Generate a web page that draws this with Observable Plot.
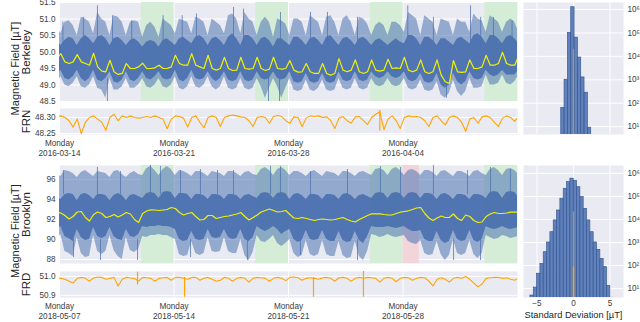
<!DOCTYPE html>
<html><head><meta charset="utf-8">
<script src="https://cdn.jsdelivr.net/npm/d3@7"></script>
<script src="https://cdn.jsdelivr.net/npm/@observablehq/plot@0.6"></script>
<style>
body{margin:0;background:#fff;}
#chart{position:relative;width:640px;height:322px;overflow:hidden;font-family:"Liberation Sans",Arial,sans-serif;}
#chart svg{position:absolute;left:0;top:0;}
</style></head><body><div id="chart"></div>
<script>
// ---------- DATA (samples every 6 h, starting Sunday 20:00 before the first Monday) ----------
// top: Berkeley, 2016-03-14 .. 2016-04-11 ; each row = one day [02h, 08h, 14h, 20h]
const berkSpikeHi = [50.8,
 50.55,50.9,50.95,50.8, 50.5,51.05,51.0,50.9, 50.55,51.2,51.0,50.9, 50.5,51.1,51.05,50.9, 50.5,50.9,50.95,50.9, 50.45,50.8,50.9,50.75, 50.45,51.0,50.9,50.8,
 50.55,51.0,50.95,50.9, 50.55,51.05,51.0,50.9, 50.5,51.0,50.9,50.8, 50.55,51.1,51.15,51.0, 50.55,51.2,51.0,50.9, 50.5,50.9,51.05,50.9, 50.45,51.0,50.95,50.85,
 50.5,51.0,51.0,50.9, 50.5,51.1,51.0,50.9, 50.5,51.05,51.1,50.9, 50.5,51.0,51.1,50.9, 50.5,51.05,51.0,50.85, 50.5,50.8,50.9,50.8, 50.5,50.9,50.9,50.8,
 50.6,51.2,51.1,51.0, 50.5,51.1,51.0,50.9, 50.5,51.0,50.95,50.9, 50.5,51.0,50.9,50.9, 50.6,51.15,51.0,50.95, 50.6,51.1,51.0,50.9, 50.6,50.9,51.0,50.9,
 50.6];
const berkDenseHi = [50.35,
 50.2,50.35,50.45,50.4, 50.2,50.4,50.5,50.4, 50.25,50.45,50.5,50.4, 50.2,50.4,50.45,50.35, 50.2,50.35,50.4,50.3, 50.15,50.3,50.35,50.3, 50.15,50.35,50.4,50.3,
 50.2,50.4,50.45,50.35, 50.25,50.45,50.5,50.4, 50.2,50.4,50.45,50.35, 50.2,50.45,50.55,50.4, 50.2,50.5,50.5,50.4, 50.2,50.4,50.45,50.35, 50.15,50.4,50.4,50.3,
 50.2,50.45,50.45,50.35, 50.2,50.4,50.45,50.35, 50.2,50.45,50.5,50.35, 50.2,50.4,50.45,50.35, 50.2,50.4,50.45,50.35, 50.2,50.35,50.4,50.3, 50.2,50.3,50.4,50.3,
 50.25,50.5,50.5,50.4, 50.2,50.45,50.45,50.35, 50.2,50.4,50.4,50.3, 50.2,50.4,50.45,50.35, 50.25,50.5,50.55,50.45, 50.25,50.5,50.5,50.4, 50.25,50.45,50.5,50.4,
 50.25];
const berkDenseLo = [49.25,
 49.45,49.2,49.15,49.25, 49.45,49.2,49.1,49.2, 49.45,49.15,49.1,49.2, 49.4,49.1,49.05,49.15, 49.4,49.15,49.1,49.2, 49.4,49.2,49.15,49.25, 49.4,49.2,49.15,49.2,
 49.45,49.15,49.1,49.2, 49.45,49.2,49.15,49.2, 49.4,49.2,49.1,49.2, 49.4,49.15,49.1,49.15, 49.4,49.15,49.1,49.15, 49.4,49.2,49.15,49.2, 49.4,49.2,49.15,49.2,
 49.4,49.1,49.05,49.1, 49.35,49.1,49.05,49.1, 49.35,49.1,49.05,49.1, 49.4,49.15,49.1,49.15, 49.4,49.15,49.1,49.15, 49.4,49.25,49.2,49.25, 49.4,49.25,49.2,49.25,
 49.4,49.15,49.1,49.15, 49.35,49.1,49.05,49.1, 49.35,49.0,48.9,49.0, 49.35,49.1,49.0,49.1, 49.4,49.2,49.15,49.2, 49.45,49.3,49.25,49.3, 49.45,49.3,49.3,49.3,
 49.45];
const berkSpikeLo = [49.05,
 49.25,49.0,48.95,49.05, 49.25,48.95,48.9,49.0, 49.25,48.9,48.85,48.6, 49.2,48.85,48.85,48.95, 49.2,48.9,48.9,49.0, 49.2,48.95,48.9,49.0, 49.2,48.95,48.9,49.0,
 49.25,48.9,48.85,48.95, 49.25,48.95,48.9,49.0, 49.25,48.95,48.85,48.95, 49.25,48.9,48.85,48.9, 49.2,48.9,48.85,48.9, 49.2,48.95,48.6,48.9, 49.2,48.95,48.6,48.9,
 49.2,48.85,48.8,48.85, 49.15,48.85,48.8,48.9, 49.15,48.85,48.8,48.85, 49.2,48.9,48.85,48.9, 49.2,48.9,48.85,48.9, 49.2,49.0,48.95,49.0, 49.2,49.0,48.95,49.0,
 49.2,48.9,48.85,48.9, 49.15,48.85,48.8,48.85, 49.1,48.7,48.6,48.75, 49.15,48.8,48.65,48.8, 49.2,48.9,48.9,48.95, 49.3,49.0,49.0,49.05, 49.3,49.05,49.0,49.1,
 49.3];
const berkMean = [49.8,
 49.95,49.7,49.65,49.7, 49.92,49.7,49.65,49.6, 49.96,49.55,49.42,49.4, 49.75,49.4,49.32,49.35, 49.65,49.5,49.5,49.55, 49.66,49.5,49.5,49.52, 49.6,49.5,49.5,49.55,
 49.9,49.65,49.6,49.6, 49.95,49.6,49.55,49.5, 49.9,49.5,49.45,49.5, 49.84,49.5,49.44,49.45, 49.84,49.5,49.48,49.5, 49.84,49.5,49.44,49.48, 49.84,49.5,49.48,49.5,
 49.74,49.45,49.39,49.4, 49.65,49.4,49.35,49.35, 49.65,49.35,49.3,49.35, 49.8,49.45,49.4,49.45, 49.76,49.4,49.35,49.4, 49.76,49.45,49.42,49.45, 49.78,49.5,49.52,49.5,
 49.84,49.45,49.4,49.45, 49.76,49.4,49.35,49.4, 49.76,49.3,49.1,49.05, 49.74,49.4,49.38,49.4, 49.76,49.5,49.5,49.55, 49.9,49.6,49.6,49.65, 49.99,49.65,49.6,49.6,
 49.9];
// isolated spikes: [time, low, high]
const berkSpikes = [
 ["2016-03-14T05:00Z",50.2,50.9],["2016-03-15T11:00Z",50.2,51.05],["2016-03-16T07:40Z",50.2,51.4],["2016-03-16T22:20Z",48.5,49.2],
 ["2016-03-17T05:45Z",50.2,51.1],["2016-03-18T10:00Z",50.2,50.95],["2016-03-20T08:00Z",50.2,51.1],["2016-03-21T12:00Z",50.2,51.1],
 ["2016-03-22T09:00Z",50.2,51.15],["2016-03-24T15:20Z",50.2,51.35],["2016-03-25T06:00Z",50.2,51.3],["2016-03-26T18:40Z",48.5,49.2],
 ["2016-03-27T10:50Z",48.5,49.2],["2016-03-27T12:15Z",50.2,51.2],["2016-03-29T08:20Z",50.2,51.2],["2016-03-30T09:10Z",50.2,51.2],
 ["2016-04-01T05:15Z",50.2,51.05],["2016-04-04T07:00Z",50.2,51.4],["2016-04-05T20:40Z",50.2,51.05],["2016-04-06T15:50Z",48.6,49.2],
 ["2016-04-08T03:05Z",50.2,51.4],["2016-04-08T18:00Z",50.2,51.05],["2016-04-09T12:45Z",50.2,51.05],["2016-04-10T16:00Z",50.2,50.95]];
const frn = [48.302,
 48.305,48.300,48.290,48.270, 48.295,48.250,48.285,48.300, 48.305,48.295,48.285,48.260, 48.300,48.310,48.290,48.305, 48.300,48.305,48.300,48.298, 48.300,48.303,48.300,48.305, 48.300,48.295,48.265,48.295,
 48.305,48.303,48.298,48.270, 48.300,48.305,48.285,48.268, 48.300,48.305,48.300,48.272, 48.300,48.305,48.308,48.305, 48.302,48.300,48.290,48.272, 48.300,48.303,48.300,48.282, 48.303,48.306,48.303,48.290,
 48.282,48.302,48.300,48.272, 48.298,48.305,48.303,48.305, 48.300,48.302,48.290,48.266, 48.298,48.303,48.290,48.282, 48.302,48.303,48.290,48.278, 48.300,48.310,48.318,48.262, 48.295,48.305,48.290,48.266,
 48.300,48.305,48.302,48.303, 48.300,48.290,48.272,48.300, 48.305,48.290,48.277,48.300, 48.305,48.300,48.285,48.257, 48.295,48.300,48.282,48.302, 48.305,48.300,48.285,48.272, 48.298,48.305,48.300,48.288,
 48.305];
const frnSpikes = [["2016-04-02T14:00Z", 48.258, 48.322]];

// bottom: Brooklyn, 2018-05-07 .. 2018-06-04
const brkSpikeHi = [96.5,
 96.3,96.9,96.8,96.6, 96.2,96.7,96.9,96.6, 96.3,96.8,96.7,96.6, 96.2,96.8,96.9,96.5, 96.2,96.6,96.8,96.5, 96.4,97.1,97.3,96.9, 96.4,97.0,97.3,97.0,
 96.4,96.9,96.8,96.6, 96.3,96.8,96.8,96.6, 96.3,96.8,96.7,96.6, 96.3,96.8,96.8,96.6, 96.3,96.7,96.8,96.5, 96.4,97.0,97.2,96.9, 96.4,97.0,97.2,96.9,
 96.4,96.8,96.8,96.6, 96.3,96.7,96.9,96.6, 96.3,96.8,96.7,96.6, 96.3,96.8,96.8,96.6, 96.3,96.7,96.8,96.6, 96.4,97.0,97.1,96.9, 96.4,97.0,97.2,96.9,
 96.4,96.9,97.0,96.8, 96.4,96.9,96.9,96.7, 96.3,96.8,96.9,96.6, 96.3,96.8,96.8,96.6, 96.3,96.8,96.9,96.6, 96.4,97.0,97.2,96.9, 96.4,97.0,97.1,96.9,
 96.5];
const brkDenseHi = [94.2,
 94.0,94.5,94.6,94.5, 93.9,94.5,94.6,94.4, 94.0,94.5,94.5,94.4, 93.9,94.4,94.6,94.4, 93.9,94.4,94.5,94.3, 94.1,94.6,94.7,94.6, 94.1,94.7,94.8,94.7,
 94.1,94.6,94.6,94.5, 94.0,94.5,94.5,94.4, 94.0,94.5,94.5,94.4, 94.0,94.5,94.5,94.4, 94.0,94.4,94.5,94.3, 94.1,94.6,94.7,94.6, 94.1,94.6,94.7,94.6,
 94.0,94.5,94.6,94.4, 94.0,94.5,94.5,94.4, 94.0,94.5,94.5,94.4, 94.0,94.5,94.6,94.4, 94.0,94.4,94.5,94.3, 94.1,94.6,94.7,94.6, 94.1,94.6,94.7,94.6,
 94.1,94.6,94.7,94.6, 94.1,94.6,94.6,94.5, 94.0,94.5,94.6,94.4, 94.0,94.5,94.5,94.4, 94.0,94.5,94.5,94.4, 94.1,94.7,94.8,94.7, 94.1,94.7,94.8,94.7,
 94.2];
const brkDenseLo = [91.0,
 91.3,90.3,90.1,89.8, 91.0,90.2,89.9,90.0, 91.2,90.3,90.1,90.3, 91.2,90.3,90.0,89.9, 91.0,90.3,90.2,90.5, 91.3,91.2,91.3,91.3, 91.4,91.3,91.3,91.2,
 91.0,90.0,89.8,89.9, 90.8,90.0,89.9,90.0, 91.0,90.2,90.1,90.2, 91.0,90.2,90.0,90.1, 91.0,90.0,89.8,90.2, 91.3,91.0,90.8,91.0, 91.3,91.0,90.5,90.8,
 91.0,90.0,89.7,89.9, 90.9,90.0,89.9,90.0, 90.9,90.0,89.8,89.8, 90.8,89.9,89.7,89.8, 90.8,89.9,89.6,90.3, 91.3,91.2,91.2,91.2, 91.3,91.2,91.1,91.2,
 91.3,91.0,90.8,90.8, 90.9,90.0,89.8,89.8, 90.8,89.9,89.6,89.8, 90.9,90.0,89.8,89.9, 90.9,89.9,89.7,90.0, 91.3,91.1,91.0,91.1, 91.3,91.1,91.0,91.1,
 91.2];
const brkSpikeLo = [90.0,
 90.5,88.8,88.6,88.3, 90.2,88.6,88.2,88.3, 90.4,88.8,88.5,88.8, 90.4,88.9,88.3,88.0, 90.2,88.9,88.7,89.0, 90.3,90.2,90.4,90.4, 90.5,90.4,90.4,90.2,
 90.0,88.5,88.3,88.4, 89.8,88.6,88.4,88.6, 90.2,88.8,88.7,88.8, 90.2,88.8,88.6,88.6, 90.0,88.4,87.9,88.7, 90.4,89.8,89.7,90.0, 90.4,89.6,89.3,89.6,
 90.0,88.6,88.2,88.4, 89.9,88.5,88.3,88.5, 89.9,88.5,88.3,88.3, 89.8,88.4,88.1,88.2, 89.8,88.3,87.9,88.8, 90.5,90.4,90.2,90.3, 90.5,90.3,90.2,90.3,
 90.4,89.8,89.6,89.5, 89.9,88.6,88.4,88.5, 89.8,88.5,87.9,88.4, 90.0,88.6,88.4,88.6, 89.9,88.5,88.1,88.6, 90.4,90.2,90.0,90.1, 90.4,90.3,90.1,90.2,
 90.3];
const brkMean = [92.75,
 92.65,92.4,92.05,92.3, 92.75,92.8,92.2,91.85, 92.5,92.75,92.6,92.2, 92.3,92.5,92.25,92.45, 92.7,92.55,92.0,91.7, 92.6,92.85,92.97,92.95, 92.9,92.95,93.0,93.2,
 93.1,92.7,92.45,92.6, 92.7,92.3,91.95,92.0, 92.4,92.4,92.1,92.2, 92.3,92.35,92.45,92.55, 92.7,92.3,91.95,92.2, 92.45,92.75,92.9,93.05, 92.9,92.75,92.8,92.9,
 92.5,92.15,92.1,92.2, 92.1,92.0,91.9,92.0, 92.05,92.0,91.95,92.0, 92.1,92.2,92.0,91.85, 91.75,92.0,92.2,92.4, 92.57,92.57,92.57,92.5, 92.45,92.45,92.6,92.73,
 92.8,92.87,93.0,93.15, 93.2,92.6,92.15,91.9, 92.15,92.35,92.2,92.2, 92.55,92.1,91.9,92.45, 92.3,91.9,91.7,91.75, 92.3,92.55,92.7,92.6, 92.6,92.65,92.73,92.73,
 92.75];
// isolated spikes: [time, low, high]
const brkSpikes = [
 ["2018-05-07T05:50Z",94.5,96.9],["2018-05-07T20:35Z",88.2,90.0],["2018-05-09T07:40Z",94.5,97.2],["2018-05-09T12:10Z",87.9,90.0],
 ["2018-05-10T17:30Z",94.5,96.8],["2018-05-11T18:30Z",87.9,90.0],["2018-05-12T13:30Z",94.5,97.4],["2018-05-13T04:10Z",94.5,97.3],
 ["2018-05-14T09:35Z",94.5,96.9],["2018-05-15T00:15Z",88.2,90.0],["2018-05-15T14:50Z",94.5,97.0],["2018-05-16T15:50Z",94.5,96.9],
 ["2018-05-17T15:20Z",94.5,96.9],["2018-05-18T11:45Z",87.9,90.0],["2018-05-19T21:40Z",94.5,97.3],["2018-05-20T12:15Z",94.5,97.3],
 ["2018-05-21T17:35Z",88.4,90.0],["2018-05-22T08:20Z",94.5,96.8],["2018-05-24T14:35Z",94.5,97.0],["2018-05-25T05:15Z",87.9,90.0],
 ["2018-05-26T14:55Z",94.5,97.3],["2018-05-27T20:25Z",94.5,97.2],["2018-05-29T20:40Z",94.5,97.4],["2018-05-31T02:10Z",87.9,90.0],
 ["2018-05-31T22:35Z",94.5,96.9],["2018-06-01T17:45Z",87.9,90.0],["2018-06-02T08:25Z",94.5,97.2],["2018-06-03T13:40Z",94.5,97.0]];
const frd = [50.993,
 50.990,50.985,50.975,50.965, 50.990,50.995,50.990,50.975, 50.992,50.997,50.995,50.985, 50.990,50.995,50.950,50.985, 50.995,50.992,50.990,50.975, 50.995,50.993,50.990,50.975, 50.990,50.993,50.995,50.980,
 50.995,50.995,50.990,50.985, 50.995,50.995,50.980,50.990, 50.995,50.985,50.975,50.980, 50.995,50.990,50.975,50.990, 50.995,50.990,50.970,50.990, 50.995,50.993,50.990,50.975, 50.990,50.995,50.990,50.978,
 50.995,50.997,50.993,50.980, 50.990,50.993,50.990,50.985, 50.993,50.995,50.990,50.975, 50.993,50.995,50.990,50.975, 50.990,50.995,50.990,50.995, 50.993,50.990,50.970,50.990, 50.995,50.990,50.972,50.990,
 50.995,50.993,50.980,50.990, 50.995,50.993,50.975,50.950, 50.985,50.993,50.985,50.970, 50.990,50.995,50.990,51.000, 50.985,50.965,50.945,50.960, 50.990,50.993,50.995,50.995, 50.990,50.993,50.985,50.980,
 50.995];
const frdSpikes = [["2018-05-11T18:30Z", 50.955, 51.023], ["2018-05-14T15:30Z", 50.89, 50.995],
                   ["2018-05-22T12:40Z", 50.89, 50.995], ["2018-05-25T14:00Z", 50.89, 51.03]];

const topMondays = ["2016-03-14","2016-03-21","2016-03-28","2016-04-04"];
const topWeekends = [["2016-03-19","2016-03-21"],["2016-03-26","2016-03-28"],["2016-04-02","2016-04-04"],["2016-04-09","2016-04-11"]];
const botMondays = ["2018-05-07","2018-05-14","2018-05-21","2018-05-28"];
const botWeekends = [["2018-05-12","2018-05-14"],["2018-05-19","2018-05-21"],["2018-05-26","2018-05-28"],["2018-06-02","2018-06-04"]];
const botHolidays = [["2018-05-28","2018-05-29"]];

// histograms of deviations (bin start, bin width, counts)
const topHistStart = -1.68, histBinWidth = 0.456;
const topHistCounts = [63, 1000, 100000, 1260000, 63000, 8900, 1260, 280, 9];
const botHistStart = -5.9;
const botHistCounts = [5, 11, 44, 117, 380, 1000, 2800, 9100, 24500, 79400, 214000, 417000, 589000,
                       468000, 251000, 93300, 28800, 9100, 2800, 1000, 480, 195, 85, 13, 4];
const topRefHeight = 20000, botRefHeight = 21000, botRefOrange = 85;

// ---------- helpers ----------
const W = 640, H = 322, HOUR = 3600e3;
const FONT = "Liberation Sans, Arial, sans-serif";
const TXT = "#3c3c3c", BG = "#eaeaf2", BLUE = "#4c72b0", YEL = "#f2f200", ORANGE = "#ffa500";
const GREEN = "#d3ebd5", RED = "#f2d3d9";
const D = s => new Date(s.length === 10 ? s + "T00:00Z" : s);

function rowsOf(startDay, cols) {
  const t0 = D(startDay).getTime() - 4 * HOUR;
  const n = cols[Object.keys(cols)[0]].length;
  return d3.range(n).map(i => {
    const r = {t: new Date(t0 + i * 6 * HOUR)};
    for (const k in cols) r[k] = cols[k][i];
    return r;
  });
}
function plotIn(frame, opts, marks) {
  const [x0, y0, x1, y1] = frame;
  const svg = Plot.plot({
    width: W, height: H, marginLeft: x0, marginTop: y0, marginRight: W - x1, marginBottom: H - y1,
    style: {background: "transparent", fontFamily: FONT, fontSize: "8.2px", color: TXT, overflow: "visible"},
    ...opts, marks
  });
  document.getElementById("chart").appendChild(svg);
}
const mondayFmt = d => "Monday\n" + d3.utcFormat("%Y-%m-%d")(d);
const sup = {1: "¹", 2: "²", 3: "³", 4: "⁴", 5: "⁵", 6: "⁶"};
const sideLabel = (name, dx, dy, size) =>
  Plot.text([name], {frameAnchor: "left", textAnchor: "middle", lineAnchor: "middle", rotate: -90, dx, dy, fontSize: size, fill: "#262626"});

function mainPanel(frame, start, end, rows, spikes, yDomain, yTicks, yFmt, mondays, weekends, holidays, name) {
  plotIn(frame, {
    x: {type: "utc", domain: [D(start), D(end)], axis: null},
    y: {domain: yDomain, axis: null}
  }, [
    Plot.frame({fill: BG, stroke: null}),
    Plot.gridY(yTicks, {stroke: "#fff", strokeOpacity: 1, strokeWidth: 1}),
    Plot.gridX(mondays.map(D), {stroke: "#fff", strokeOpacity: 1, strokeWidth: 1}),
    Plot.rect(weekends, {x1: d => D(d[0]), x2: d => D(d[1]), fill: GREEN, fillOpacity: 0.92}),
    Plot.rect(holidays, {x1: d => D(d[0]), x2: d => D(d[1]), fill: RED, fillOpacity: 0.92}),
    Plot.areaY(rows, {x: "t", y1: "sL", y2: "sH", fill: BLUE, fillOpacity: 0.55, clip: true}),
    Plot.ruleX(spikes, {x: d => D(d[0]), y1: d => d[1], y2: d => d[2], stroke: BLUE, strokeOpacity: 0.75, strokeWidth: 1, clip: true}),
    Plot.areaY(rows, {x: "t", y1: "dL", y2: "dH", fill: BLUE, fillOpacity: 0.95, clip: true}),
    Plot.lineY(rows, {x: "t", y: "m", stroke: YEL, strokeWidth: 1.2, clip: true}),
    Plot.axisY(yTicks, {tickSize: 0, tickPadding: 4, tickFormat: yFmt, label: null}),
    sideLabel(name, -33, 0, 11.5),
    sideLabel("Magnetic Field [µT]", -44, 16.5, 11)
  ]);
}
function refPanel(frame, start, end, rows, spikes, yDomain, yTicks, yFmt, mondays, name) {
  plotIn(frame, {
    x: {type: "utc", domain: [D(start), D(end)], axis: null},
    y: {domain: yDomain, axis: null}
  }, [
    Plot.frame({fill: BG, stroke: null}),
    Plot.gridY(yTicks, {stroke: "#fff", strokeOpacity: 1, strokeWidth: 1}),
    Plot.gridX(mondays.map(D), {stroke: "#fff", strokeOpacity: 1, strokeWidth: 1}),
    Plot.lineY(rows, {x: "t", y: "v", stroke: ORANGE, strokeWidth: 1.1, clip: true}),
    Plot.ruleX(spikes, {x: d => D(d[0]), y1: d => d[1], y2: d => d[2], stroke: ORANGE, strokeWidth: 1.2, clip: true}),
    Plot.axisY(yTicks, {tickSize: 0, tickPadding: 4, tickFormat: yFmt, label: null}),
    Plot.text(mondays.map(D), {x: d => d, text: mondayFmt, frameAnchor: "bottom", lineAnchor: "top", dy: 5, lineHeight: 1.15, fontSize: 8.2, fill: TXT}),
    sideLabel(name, -33, 0, 11.5)
  ]);
}
function histPanel(frame, start, counts, refH, refOrange, yDomain, showX) {
  const bins = counts.map((n, i) => ({x1: start + i * histBinWidth, x2: start + (i + 1) * histBinWidth, n}));
  const marks = [
    Plot.frame({fill: BG, stroke: null}),
    Plot.gridY([10, 100, 1e3, 1e4, 1e5, 1e6], {stroke: "#fff", strokeOpacity: 1, strokeWidth: 1}),
    Plot.gridX([-5, 0, 5], {stroke: "#fff", strokeOpacity: 1, strokeWidth: 1}),
    Plot.rect(bins, {x1: "x1", x2: "x2", y1: () => 1, y2: "n", fill: BLUE, fillOpacity: 0.88, stroke: "#3a5a98", strokeWidth: 0.7, clip: true}),
    Plot.ruleX([0], {y1: () => 1, y2: () => refH, stroke: "#a8937a", strokeWidth: 1.3, clip: true}),
    Plot.axisY([10, 100, 1e3, 1e4, 1e5, 1e6], {anchor: "right", tickSize: 0, tickPadding: 4, tickFormat: d => "10" + sup[Math.round(Math.log10(d))], label: null})
  ];
  if (refOrange) marks.push(Plot.ruleX([0], {y1: () => 1, y2: () => refOrange, stroke: ORANGE, strokeWidth: 1.4, clip: true}));
  if (showX) {
    marks.push(Plot.axisX([-5, 0, 5], {tickSize: 0, tickPadding: 3, label: null}));
    marks.push(Plot.text(["Standard Deviation [µT]"], {frameAnchor: "bottom", dy: 20, fontSize: 9.3, fill: "#262626"}));
  }
  plotIn(frame, {x: {domain: [-6.85, 6.85], axis: null}, y: {type: "log", domain: yDomain, axis: null}}, marks);
}

// ---------- build ----------
const topRows = rowsOf("2016-03-14", {sH: berkSpikeHi, dH: berkDenseHi, dL: berkDenseLo, sL: berkSpikeLo, m: berkMean});
const frnRows = rowsOf("2016-03-14", {v: frn});
const botRows = rowsOf("2018-05-07", {sH: brkSpikeHi, dH: brkDenseHi, dL: brkDenseLo, sL: brkSpikeLo, m: brkMean});
const frdRows = rowsOf("2018-05-07", {v: frd});

mainPanel([59, 2, 517, 101], "2016-03-14", "2016-04-11", topRows, berkSpikes, [48.5, 51.5],
  [48.5, 49, 49.5, 50, 50.5, 51, 51.5], d3.format(".1f"), topMondays, topWeekends, [], "Berkeley");
refPanel([59, 108, 517, 134], "2016-03-14", "2016-04-11", frnRows, frnSpikes, [48.247, 48.328],
  [48.25, 48.30], d3.format(".2f"), topMondays, "FRN");
mainPanel([59, 165, 517, 263], "2018-05-07", "2018-06-04", botRows, brkSpikes, [87.6, 97.4],
  [88, 90, 92, 94, 96], d3.format("d"), botMondays, botWeekends, botHolidays, "Brooklyn");
refPanel([59, 271, 517, 297], "2018-05-07", "2018-06-04", frdRows, frdSpikes, [50.889, 51.026],
  [50.9, 51.0], d3.format(".1f"), botMondays, "FRD");
histPanel([523, 2, 623, 134], topHistStart, topHistCounts, topRefHeight, 0, [4.6, 2e6], false);
histPanel([523, 165, 623, 297], botHistStart, botHistCounts, botRefHeight, botRefOrange, [4.1, 2.2e6], true);
</script></body></html>
